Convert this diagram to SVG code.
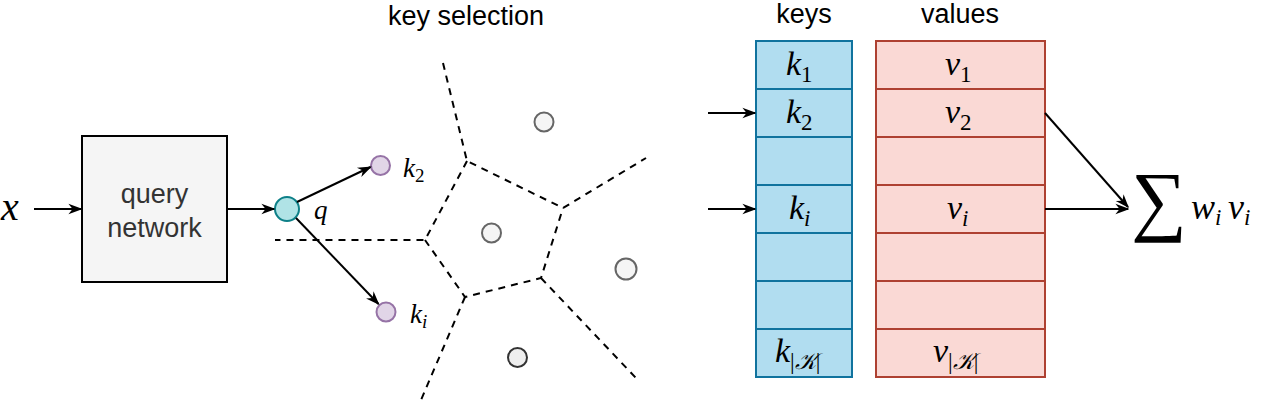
<svg xmlns="http://www.w3.org/2000/svg" width="1263" height="400" viewBox="0 0 1263 400">
<defs>
<marker id="arr" viewBox="0 0 10 10" refX="9" refY="5" markerWidth="14" markerHeight="14" orient="auto" markerUnits="userSpaceOnUse">
<path d="M0,1.3 L10,5 L0,8.7 L3,5 z" fill="#000"/>
</marker>
<style>
.lbl{font-family:"Liberation Sans",Arial,sans-serif;font-size:27px;fill:#000;text-anchor:middle}
.math{font-family:"Liberation Serif","Times New Roman",serif;font-style:italic;fill:#000}
.sub{font-style:normal}
.conn{stroke:#000;stroke-width:2;fill:none}
.dash{stroke:#000;stroke-width:2;fill:none;stroke-dasharray:7,6}
.grey{fill:#f5f5f5;stroke:#666;stroke-width:2}
.key{fill:#e1d5e7;stroke:#9673a6;stroke-width:2}
.kc{fill:#b1ddf0;stroke:#10739e;stroke-width:2}
.vc{fill:#fad9d5;stroke:#ae4132;stroke-width:2}
</style>
</defs>
<rect width="1263" height="400" fill="#fff"/>

<g id="title-keysel"><text class="lbl" x="466" y="25" font-size="28">key selection</text></g>
<g id="title-keys"><text class="lbl" x="804" y="23">keys</text></g>
<g id="title-values"><text class="lbl" x="960" y="23">values</text></g>

<g id="input-x"><text class="math" x="1" y="220" font-size="40">x</text></g>

<g id="query-network">
<rect x="82" y="136" width="145" height="146" fill="#f5f5f5" stroke="#000" stroke-width="2"/>
<text x="154.5" y="203" text-anchor="middle" font-family="Liberation Sans,Arial,sans-serif" font-size="27" fill="#333">query</text>
<text x="154.5" y="237" text-anchor="middle" font-family="Liberation Sans,Arial,sans-serif" font-size="27" fill="#333">network</text>
</g>

<g id="query-q">
<circle cx="287" cy="209" r="12" fill="#b0e3e6" stroke="#0e8088" stroke-width="2"/>
<text class="math" x="314" y="219" font-size="27">q</text>
</g>

<g id="key-k2">
<circle cx="380.5" cy="165.5" r="9.5" class="key"/>
<text class="math" x="403" y="177" font-size="27">k<tspan class="sub" font-size="19" dy="5">2</tspan></text>
</g>
<g id="key-ki">
<circle cx="386" cy="312" r="9.5" class="key"/>
<text class="math" x="410" y="323" font-size="27">k<tspan font-size="19" dy="5">i</tspan></text>
</g>

<g id="voronoi">
<path class="dash" d="M443,63 L467,161 L563,208 L646,158"/>
<path class="dash" d="M467,161 L425,240 L275,240"/>
<path class="dash" d="M425,240 L465,297 L541,278 L563,208"/>
<path class="dash" d="M541,278 L636,378"/>
<path class="dash" d="M465,297 L421,400"/>
<circle cx="544" cy="122" r="9.5" class="grey"/>
<circle cx="491.5" cy="233" r="9.5" class="grey"/>
<circle cx="626" cy="269" r="10.5" class="grey"/>
<circle cx="517.5" cy="357.5" r="9.5" fill="#eeeeee" stroke="#333" stroke-width="2"/>
</g>

<g id="keys-table">
<rect class="kc" x="756" y="41" width="96" height="48"/>
<rect class="kc" x="756" y="89" width="96" height="48"/>
<rect class="kc" x="756" y="137" width="96" height="48"/>
<rect class="kc" x="756" y="185" width="96" height="48"/>
<rect class="kc" x="756" y="233" width="96" height="48"/>
<rect class="kc" x="756" y="281" width="96" height="48"/>
<rect class="kc" x="756" y="329" width="96" height="48"/>
<text class="math" x="786" y="75" font-size="34">k<tspan class="sub" font-size="23" dy="7">1</tspan></text>
<text class="math" x="786" y="123" font-size="34">k<tspan class="sub" font-size="23" dy="7">2</tspan></text>
<text class="math" x="789" y="219" font-size="34">k<tspan font-size="23" dy="7">i</tspan></text>
<text class="math" x="775" y="362" font-size="34">k<tspan font-size="23" dy="7"><tspan class="sub">|</tspan>𝒦<tspan class="sub">|</tspan></tspan></text>
</g>

<g id="values-table">
<rect class="vc" x="876" y="41" width="169" height="48"/>
<rect class="vc" x="876" y="89" width="169" height="48"/>
<rect class="vc" x="876" y="137" width="169" height="48"/>
<rect class="vc" x="876" y="185" width="169" height="48"/>
<rect class="vc" x="876" y="233" width="169" height="48"/>
<rect class="vc" x="876" y="281" width="169" height="48"/>
<rect class="vc" x="876" y="329" width="169" height="48"/>
<text class="math" x="945" y="75" font-size="34">v<tspan class="sub" font-size="23" dy="7">1</tspan></text>
<text class="math" x="945" y="123" font-size="34">v<tspan class="sub" font-size="23" dy="7">2</tspan></text>
<text class="math" x="947" y="219" font-size="34">v<tspan font-size="23" dy="7">i</tspan></text>
<text class="math" x="933" y="362" font-size="34">v<tspan font-size="23" dy="7"><tspan class="sub">|</tspan>𝒦<tspan class="sub">|</tspan></tspan></text>
</g>

<g id="sum">
<text x="1131" y="226" font-family="Liberation Serif,'DejaVu Serif',serif" font-size="78" fill="#000">∑</text>
<text class="math" x="1191" y="219" font-size="36">w<tspan font-size="23" dy="6">i</tspan><tspan x="1228" dy="-6">v</tspan><tspan font-size="23" dy="6">i</tspan></text>
</g>

<g id="connectors">
<line class="conn" x1="34" y1="209" x2="81" y2="209" marker-end="url(#arr)"/>
<line class="conn" x1="227" y1="209" x2="274" y2="209" marker-end="url(#arr)"/>
<line class="conn" x1="297" y1="202" x2="370.5" y2="167" marker-end="url(#arr)"/>
<line class="conn" x1="296" y1="218" x2="378.5" y2="304" marker-end="url(#arr)"/>
<line class="conn" x1="708" y1="113" x2="755" y2="113" marker-end="url(#arr)"/>
<line class="conn" x1="708" y1="209" x2="755" y2="209" marker-end="url(#arr)"/>
<line class="conn" x1="1045" y1="113" x2="1128" y2="207" marker-end="url(#arr)"/>
<line class="conn" x1="1045" y1="209" x2="1128" y2="209" marker-end="url(#arr)"/>
</g>
</svg>
